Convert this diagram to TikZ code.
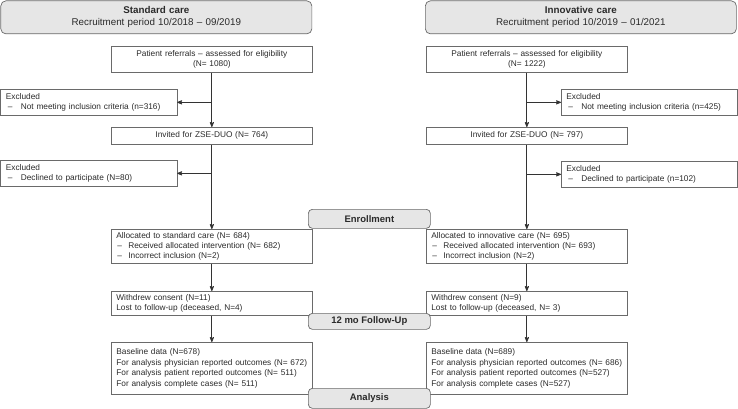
\documentclass[tikz,border=0pt]{standalone}
\usepackage{fontspec}
\setmainfont{Liberation Sans}
\usepackage{tikz}
\usetikzlibrary{positioning,arrows}
\definecolor{framegray}{HTML}{6A6A6A}
\definecolor{linegray}{HTML}{333333}
\definecolor{headfill}{HTML}{E6E6E6}
\definecolor{textgray}{HTML}{2A2A2A}
\newcommand{\dashitem}[1]{\makebox[12pt][l]{\hspace{1pt}--}#1}
\newcommand{\exitem}[1]{\makebox[15pt][l]{\hspace{2pt}--}#1}

\begin{document}
\begin{tikzpicture}[x=1pt,y=-1pt,>=stealth',text=textgray,
		font=\fontsize{8.3}{10.4}\selectfont,
		box/.style={draw=framegray,line width=0.7pt,anchor=north west,inner xsep=5pt,inner ysep=0pt,
			text width=191pt,minimum height=#1,align=left},
		cbox/.style={box=#1,align=center},
		exbox/.style={box=#1,text width=166pt},
		head/.style={draw=framegray,line width=0.7pt,fill=headfill,rounded corners=5pt,anchor=north west,
			inner xsep=5pt,inner ysep=0pt,text width=301pt,minimum height=33pt,align=center,
			font=\fontsize{9.8}{12}\selectfont},
		phase/.style={draw=framegray,line width=0.7pt,fill=headfill,rounded corners=4pt,anchor=north west,
			inner sep=0pt,minimum width=122pt,minimum height=#1,font=\fontsize{9.5}{11}\selectfont\bfseries},
		flow/.style={->,draw=linegray,line width=0.8pt}]
	\useasboundingbox (0,0) rectangle (738,409);

	% headers
	\node[head] (hs) at (0.5,0.5) {\textbf{Standard care}\\Recruitment period 10/2018 -- 09/2019};
	\node[head] (hi) at (425,0.5) {\textbf{Innovative care}\\Recruitment period 10/2019 -- 01/2021};

	% standard care
	\node[cbox=26pt] (sref) at (111,46) {Patient referrals -- assessed for eligibility\\(N= 1080)};
	\node[exbox=26pt] (sex1) at (0.5,89) {Excluded\\\exitem{Not meeting inclusion criteria (n=316)}};
	\node[cbox=17pt] (sinv) at (111,127) {Invited for ZSE-DUO (N= 764)};
	\node[exbox=26pt] (sex2) at (0.5,160) {Excluded\\\exitem{Declined to participate (N=80)}};
	\node[box=34pt] (sall) at (111,229) {Allocated to standard care (N= 684)\\
		\dashitem{Received allocated intervention (N= 682)}\\\dashitem{Incorrect inclusion (N=2)}};
	\node[box=24pt] (swd) at (111,291) {Withdrew consent (N=11)\\Lost to follow-up (deceased, N=4)};
	\node[box=52pt] (sbl) at (111,342) {Baseline data (N=678)\\For analysis physician reported outcomes (N= 672)\\
		For analysis patient reported outcomes (N= 511)\\For analysis complete cases (N= 511)};

	% innovative care
	\node[cbox=26pt] (iref) at (426,46) {Patient referrals -- assessed for eligibility\\(N= 1222)};
	\node[exbox=26pt] (iex1) at (561,89) {Excluded\\\exitem{Not meeting inclusion criteria (n=425)}};
	\node[cbox=17pt] (iinv) at (426,127) {Invited for ZSE-DUO (N= 797)};
	\node[exbox=26pt] (iex2) at (561,161) {Excluded\\\exitem{Declined to participate (n=102)}};
	\node[box=34pt] (iall) at (426,229) {Allocated to innovative care (N= 695)\\
		\dashitem{Received allocated intervention (N= 693)}\\\dashitem{Incorrect inclusion (N=2)}};
	\node[box=24pt] (iwd) at (426,291) {Withdrew consent (N=9)\\Lost to follow-up (deceased, N= 3)};
	\node[box=52pt] (ibl) at (426,342) {Baseline data (N=689)\\For analysis physician reported outcomes (N= 686)\\
		For analysis patient reported outcomes (N=527)\\For analysis complete cases (N=527)};

	% phases
	\node[phase=19pt] (enr) at (308,209) {Enrollment};
	\node[phase=16pt] (fup) at (308,313) {12 mo Follow-Up};
	\node[phase=20pt] (ana) at (308,388) {Analysis};

	\draw[flow] (sref) -- (sinv);
	\draw[flow] (sref.south |- sex1.east) -- (sex1.east);
	\draw[flow] (sinv) -- (sall);
	\draw[flow] (sinv.south |- sex2.east) -- (sex2.east);
	\draw[flow] (sall) -- (swd);
	\draw[flow] (swd) -- (sbl);

	\draw[flow] (iref) -- (iinv);
	\draw[flow] (iref.south |- iex1.west) -- (iex1.west);
	\draw[flow] (iinv) -- (iall);
	\draw[flow] (iinv.south |- iex2.west) -- (iex2.west);
	\draw[flow] (iall) -- (iwd);
	\draw[flow] (iwd) -- (ibl);
\end{tikzpicture}
\end{document}
